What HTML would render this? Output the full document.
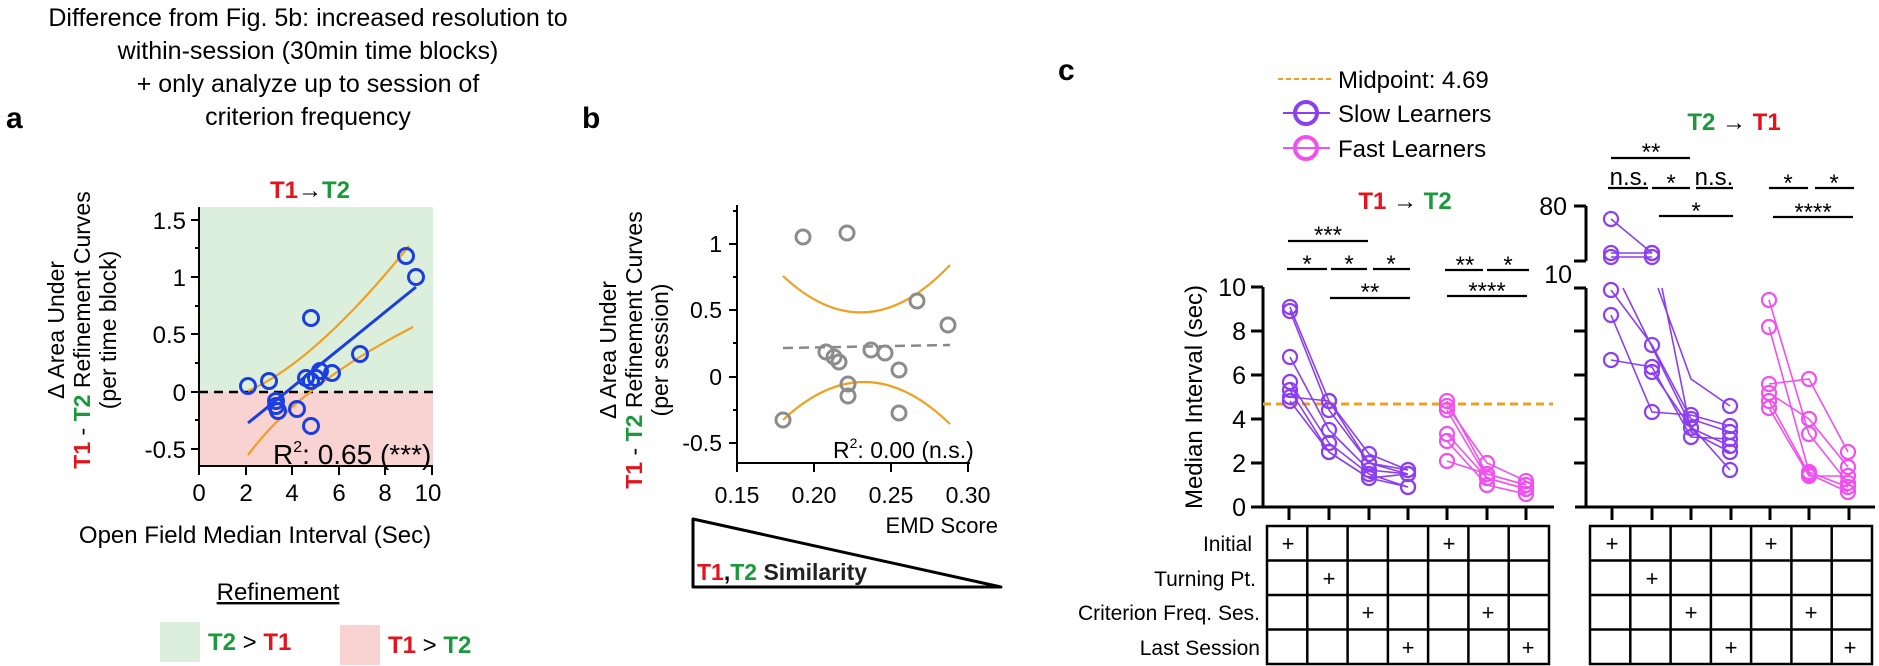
<!DOCTYPE html>
<html><head><meta charset="utf-8"><style>
html,body{margin:0;padding:0;background:#fff;}
svg{display:block;font-family:"Liberation Sans",Arial,sans-serif;}
</style></head><body>
<svg width="1879" height="666" viewBox="0 0 1879 666" xmlns="http://www.w3.org/2000/svg">
<defs>
<marker id="ms" viewBox="-10 -10 20 20" markerWidth="20" markerHeight="20" markerUnits="userSpaceOnUse" refX="0" refY="0"><circle r="7" fill="none" stroke="#8b3ff0" stroke-width="2.2"/></marker>
<marker id="mf" viewBox="-10 -10 20 20" markerWidth="20" markerHeight="20" markerUnits="userSpaceOnUse" refX="0" refY="0"><circle r="7" fill="none" stroke="#f050ef" stroke-width="2.2"/></marker>
</defs>
<!-- header text -->
<g font-size="25" text-anchor="middle" fill="#000">
<text x="308" y="26">Difference from Fig. 5b: increased resolution to</text>
<text x="308" y="59">within-session (30min time blocks)</text>
<text x="308" y="92">+ only analyze up to session of</text>
<text x="308" y="125">criterion frequency</text>
</g>
<text x="6" y="128" font-size="30" font-weight="bold">a</text>
<text x="582" y="128" font-size="30" font-weight="bold">b</text>
<text x="1058" y="80" font-size="30" font-weight="bold">c</text>

<!-- PANEL A -->
<rect x="199" y="207" width="234" height="185" fill="#dcefdc"/>
<rect x="199" y="392" width="234" height="74" fill="#f9d2d2"/>
<line x1="199" y1="392" x2="433" y2="392" stroke="#000" stroke-width="2.5" stroke-dasharray="9,6"/>
<text x="310" y="198" font-size="24" font-weight="bold" text-anchor="middle"><tspan fill="#e3141c">T1</tspan><tspan fill="#000" font-weight="normal">→</tspan><tspan fill="#1a9a3a">T2</tspan></text>
<g stroke="#000" stroke-width="2" fill="none">
<line x1="199" y1="207" x2="199" y2="466"/>
<line x1="199" y1="466" x2="433" y2="466"/>
<line x1="191" y1="220" x2="199" y2="220"/><line x1="191" y1="277" x2="199" y2="277"/><line x1="191" y1="334" x2="199" y2="334"/><line x1="191" y1="392" x2="199" y2="392"/><line x1="191" y1="449" x2="199" y2="449"/>
<line x1="195" y1="248" x2="199" y2="248"/><line x1="195" y1="306" x2="199" y2="306"/><line x1="195" y1="363" x2="199" y2="363"/><line x1="195" y1="420" x2="199" y2="420"/>
<line x1="199" y1="466" x2="199" y2="475"/><line x1="246" y1="466" x2="246" y2="475"/><line x1="292" y1="466" x2="292" y2="475"/><line x1="339" y1="466" x2="339" y2="475"/><line x1="385" y1="466" x2="385" y2="475"/><line x1="432" y1="466" x2="432" y2="475"/>
</g>
<g font-size="24" text-anchor="end">
<text x="186" y="229">1.5</text><text x="186" y="286">1</text><text x="186" y="343">0.5</text><text x="186" y="401">0</text><text x="186" y="458">-0.5</text>
</g>
<g font-size="24" text-anchor="middle">
<text x="199" y="501">0</text><text x="246" y="501">2</text><text x="292" y="501">4</text><text x="339" y="501">6</text><text x="385" y="501">8</text><text x="428" y="501">10</text>
</g>
<text x="255" y="543" font-size="24" text-anchor="middle">Open Field Median Interval (Sec)</text>
<g transform="translate(64,330) rotate(-90)" font-size="23" text-anchor="middle">
<text x="0" y="0">Δ Area Under</text>
<text x="0" y="26"><tspan fill="#e3141c" font-weight="bold">T1</tspan> - <tspan fill="#1a9a3a" font-weight="bold">T2</tspan> Refinement Curves</text>
<text x="0" y="52">(per time block)</text>
</g>
<path d="M248,391 Q315,362 409,246" stroke="#f0a020" stroke-width="2.2" fill="none"/>
<path d="M248,455 Q300,385 413,327" stroke="#f0a020" stroke-width="2.2" fill="none"/>
<line x1="248" y1="423" x2="416" y2="287" stroke="#1a3ee0" stroke-width="3"/>
<g fill="none" stroke="#1a3ee0" stroke-width="3">
<circle cx="248" cy="386" r="7.5"/><circle cx="269" cy="381" r="7.5"/><circle cx="276" cy="401" r="7.5"/><circle cx="276" cy="406" r="7.5"/><circle cx="278" cy="411" r="7.5"/><circle cx="297" cy="409" r="7.5"/><circle cx="306" cy="378" r="7.5"/><circle cx="311" cy="381" r="7.5"/><circle cx="311" cy="426" r="7.5"/><circle cx="316" cy="378" r="7.5"/><circle cx="320" cy="371" r="7.5"/><circle cx="332" cy="373" r="7.5"/><circle cx="360" cy="354" r="7.5"/><circle cx="311" cy="318" r="7.5"/><circle cx="406" cy="256" r="7.5"/><circle cx="416" cy="277" r="7.5"/>
</g>
<text x="273" y="464" font-size="28">R<tspan font-size="16" dy="-12">2</tspan><tspan dy="12">: 0.65 (***)</tspan></text>
<text x="278" y="600" font-size="24" text-anchor="middle" text-decoration="underline">Refinement</text>
<rect x="160" y="622" width="40" height="40" fill="#dcefdc"/>
<text x="208" y="650" font-size="24" font-weight="bold"><tspan fill="#1a9a3a">T2</tspan><tspan fill="#000" font-weight="normal"> &gt; </tspan><tspan fill="#e3141c">T1</tspan></text>
<rect x="340" y="625" width="40" height="40" fill="#f9d2d2"/>
<text x="388" y="653" font-size="24" font-weight="bold"><tspan fill="#e3141c">T1</tspan><tspan fill="#000" font-weight="normal"> &gt; </tspan><tspan fill="#1a9a3a">T2</tspan></text>

<!-- PANEL B -->
<g stroke="#000" stroke-width="2" fill="none">
<line x1="737" y1="205" x2="737" y2="463"/>
<line x1="737" y1="463" x2="970" y2="463"/>
<line x1="729" y1="244" x2="737" y2="244"/><line x1="729" y1="310" x2="737" y2="310"/><line x1="729" y1="377" x2="737" y2="377"/><line x1="729" y1="443" x2="737" y2="443"/>
<line x1="733" y1="211" x2="737" y2="211"/><line x1="733" y1="277" x2="737" y2="277"/><line x1="733" y1="343" x2="737" y2="343"/><line x1="733" y1="410" x2="737" y2="410"/>
<line x1="737" y1="463" x2="737" y2="472"/><line x1="814" y1="463" x2="814" y2="472"/><line x1="891" y1="463" x2="891" y2="472"/><line x1="968" y1="463" x2="968" y2="472"/>
</g>
<g font-size="23" text-anchor="end">
<text x="722" y="252">1</text><text x="722" y="318">0.5</text><text x="722" y="385">0</text><text x="722" y="451">-0.5</text>
</g>
<g font-size="23" text-anchor="middle">
<text x="737" y="503">0.15</text><text x="814" y="503">0.20</text><text x="891" y="503">0.25</text><text x="968" y="503">0.30</text>
</g>
<g transform="translate(632,350) rotate(-90)" font-size="23" text-anchor="middle">
<text x="0" y="-16">Δ Area Under</text>
<text x="0" y="10"><tspan fill="#e3141c" font-weight="bold">T1</tspan> - <tspan fill="#1a9a3a" font-weight="bold">T2</tspan> Refinement Curves</text>
<text x="0" y="36">(per session)</text>
</g>
<path d="M783,276 Q866,354 950,265" stroke="#f0a020" stroke-width="2.2" fill="none"/>
<path d="M783,420 Q866,342 950,424" stroke="#f0a020" stroke-width="2.2" fill="none"/>
<line x1="783" y1="348" x2="950" y2="345" stroke="#888" stroke-width="2.5" stroke-dasharray="10,6"/>
<g fill="none" stroke="#8c8c8c" stroke-width="3">
<circle cx="783" cy="420" r="7"/><circle cx="803" cy="237" r="7"/><circle cx="847" cy="233" r="7"/><circle cx="826" cy="352" r="7"/><circle cx="834" cy="357" r="7"/><circle cx="839" cy="362" r="7"/><circle cx="848" cy="384" r="7"/><circle cx="848" cy="396" r="7"/><circle cx="871" cy="350" r="7"/><circle cx="885" cy="353" r="7"/><circle cx="899" cy="370" r="7"/><circle cx="899" cy="413" r="7"/><circle cx="917" cy="301" r="7"/><circle cx="948" cy="325" r="7"/>
</g>
<text x="833" y="458" font-size="23">R<tspan font-size="14" dy="-10">2</tspan><tspan dy="10">: 0.00 (n.s.)</tspan></text>
<text x="998" y="533" font-size="22" text-anchor="end">EMD Score</text>
<polygon points="693,519 693,587 1001,587" fill="none" stroke="#000" stroke-width="3" stroke-linejoin="round"/>
<text x="697" y="580" font-size="23" font-weight="bold"><tspan fill="#e3141c">T1</tspan><tspan fill="#000">,</tspan><tspan fill="#1a9a3a">T2</tspan><tspan fill="#222"> Similarity</tspan></text>

<!-- PANEL C legend -->
<line x1="1278" y1="79" x2="1332" y2="79" stroke="#f0a020" stroke-width="2" stroke-dasharray="5,3"/>
<text x="1338" y="88" font-size="24">Midpoint: 4.69</text>
<line x1="1283" y1="113" x2="1330" y2="113" stroke="#8b3ff0" stroke-width="2"/>
<circle cx="1306" cy="113" r="11" fill="none" stroke="#8b3ff0" stroke-width="4"/>
<text x="1338" y="122" font-size="24">Slow Learners</text>
<line x1="1283" y1="148" x2="1330" y2="148" stroke="#f050ef" stroke-width="2"/>
<circle cx="1306" cy="148" r="11" fill="none" stroke="#f050ef" stroke-width="4"/>
<text x="1338" y="157" font-size="24">Fast Learners</text>

<text x="1405" y="209" font-size="24" font-weight="bold" text-anchor="middle"><tspan fill="#e3141c">T1</tspan><tspan fill="#000" font-weight="normal"> → </tspan><tspan fill="#1a9a3a">T2</tspan></text>
<text x="1734" y="130" font-size="24" font-weight="bold" text-anchor="middle"><tspan fill="#1a9a3a">T2</tspan><tspan fill="#000" font-weight="normal"> → </tspan><tspan fill="#e3141c">T1</tspan></text>

<!-- c left axes -->
<g stroke="#000" stroke-width="3" fill="none">
<line x1="1263" y1="287" x2="1263" y2="507"/>
<line x1="1251" y1="507" x2="1554" y2="507"/>
<line x1="1251" y1="287" x2="1263" y2="287"/><line x1="1251" y1="331" x2="1263" y2="331"/><line x1="1251" y1="375" x2="1263" y2="375"/><line x1="1251" y1="419" x2="1263" y2="419"/><line x1="1251" y1="463" x2="1263" y2="463"/>
<line x1="1289" y1="507" x2="1289" y2="520"/><line x1="1329" y1="507" x2="1329" y2="520"/><line x1="1369" y1="507" x2="1369" y2="520"/><line x1="1408" y1="507" x2="1408" y2="520"/><line x1="1447" y1="507" x2="1447" y2="520"/><line x1="1487" y1="507" x2="1487" y2="520"/><line x1="1526" y1="507" x2="1526" y2="520"/>
</g>
<g font-size="25" text-anchor="end">
<text x="1246" y="296">10</text><text x="1246" y="340">8</text><text x="1246" y="384">6</text><text x="1246" y="428">4</text><text x="1246" y="472">2</text><text x="1246" y="516">0</text>
</g>
<text transform="translate(1202,397) rotate(-90)" font-size="24" text-anchor="middle">Median Interval (sec)</text>
<line x1="1263" y1="404" x2="1553" y2="404" stroke="#f0a020" stroke-width="3" stroke-dasharray="8,5"/>

<!-- c right axes -->
<g stroke="#000" stroke-width="3" fill="none">
<line x1="1586" y1="206" x2="1586" y2="261"/>
<line x1="1586" y1="288" x2="1586" y2="507"/>
<line x1="1574" y1="206" x2="1586" y2="206"/><line x1="1574" y1="261" x2="1586" y2="261"/>
<line x1="1574" y1="288" x2="1586" y2="288"/><line x1="1574" y1="331" x2="1586" y2="331"/><line x1="1574" y1="375" x2="1586" y2="375"/><line x1="1574" y1="419" x2="1586" y2="419"/><line x1="1574" y1="463" x2="1586" y2="463"/>
<line x1="1575" y1="507" x2="1875" y2="507"/>
<line x1="1612" y1="507" x2="1612" y2="520"/><line x1="1652" y1="507" x2="1652" y2="520"/><line x1="1691" y1="507" x2="1691" y2="520"/><line x1="1731" y1="507" x2="1731" y2="520"/><line x1="1770" y1="507" x2="1770" y2="520"/><line x1="1809" y1="507" x2="1809" y2="520"/><line x1="1849" y1="507" x2="1849" y2="520"/>
</g>
<text x="1567" y="215" font-size="25" text-anchor="end">80</text>
<text x="1572" y="283" font-size="25" text-anchor="end">10</text>

<!-- c data -->
<g fill="none" stroke="#8b3ff0" stroke-width="1.6" marker-start="url(#ms)" marker-mid="url(#ms)" marker-end="url(#ms)">
<polyline points="1290,307 1329,401 1369,454 1408,470"/>
<polyline points="1290,311 1329,410 1369,463 1408,474"/>
<polyline points="1290,357 1329,430 1369,470 1408,474"/>
<polyline points="1290,382 1329,443 1369,474 1408,487"/>
<polyline points="1290,390 1329,452 1369,478 1408,487"/>
<polyline points="1290,397 1329,401 1369,463 1408,470"/>
<polyline points="1290,401 1329,452 1369,478 1408,474"/>
<polyline points="1611,219 1652,253"/>
<polyline points="1611,253 1652,253"/>
<polyline points="1611,257 1652,257"/>
<polyline points="1611,290 1652,345 1691,419 1730,432"/>
<polyline points="1611,315 1652,412 1691,415 1730,426"/>
<polyline points="1611,360 1652,367 1691,437 1730,439"/>
<polyline points="1652,372 1691,428 1730,446"/>
</g>
<g fill="none" stroke="#8b3ff0" stroke-width="1.6" marker-end="url(#ms)">
<polyline points="1623,288 1691,426 1730,470"/>
<polyline points="1658,288 1691,379 1730,406"/>
<polyline points="1662,288 1691,432 1730,452"/>
</g>
<g fill="none" stroke="#f050ef" stroke-width="1.6" marker-start="url(#mf)" marker-mid="url(#mf)" marker-end="url(#mf)">
<polyline points="1447,406 1487,463 1526,481"/>
<polyline points="1447,401 1487,474 1526,485"/>
<polyline points="1447,434 1487,478 1526,489"/>
<polyline points="1447,441 1487,485 1526,494"/>
<polyline points="1447,461 1487,474 1526,485"/>
<polyline points="1447,410 1487,478 1526,489"/>
<polyline points="1769,300 1809,434 1848,483"/>
<polyline points="1769,327 1809,472 1848,487"/>
<polyline points="1769,384 1809,379 1848,452"/>
<polyline points="1769,393 1809,419 1848,467"/>
<polyline points="1769,401 1809,474 1848,492"/>
<polyline points="1769,408 1809,476 1848,476"/>
</g>

<!-- significance bars -->
<g stroke="#000" stroke-width="2.2">
<line x1="1288" y1="241" x2="1368" y2="241"/>
<line x1="1287" y1="269" x2="1327" y2="269"/><line x1="1331" y1="269" x2="1367" y2="269"/><line x1="1373" y1="269" x2="1410" y2="269"/>
<line x1="1330" y1="298" x2="1410" y2="298"/>
<line x1="1445" y1="270" x2="1483" y2="270"/><line x1="1487" y1="270" x2="1529" y2="270"/>
<line x1="1447" y1="296" x2="1527" y2="296"/>
<line x1="1611" y1="158" x2="1690" y2="158"/>
<line x1="1608" y1="188" x2="1648" y2="188"/><line x1="1652" y1="188" x2="1690" y2="188"/><line x1="1696" y1="188" x2="1733" y2="188"/>
<line x1="1659" y1="216" x2="1733" y2="216"/>
<line x1="1769" y1="188" x2="1808" y2="188"/><line x1="1815" y1="188" x2="1854" y2="188"/>
<line x1="1773" y1="217" x2="1853" y2="217"/>
</g>
<g font-size="24" text-anchor="middle">
<text x="1328" y="243">***</text>
<text x="1307" y="272">*</text><text x="1349" y="272">*</text><text x="1391" y="272">*</text>
<text x="1370" y="300">**</text>
<text x="1465" y="273">**</text><text x="1508" y="273">*</text>
<text x="1487" y="299">****</text>
<text x="1651" y="160">**</text>
<text x="1629" y="185">n.s.</text><text x="1671" y="191">*</text><text x="1714" y="185">n.s.</text>
<text x="1696" y="219">*</text>
<text x="1788" y="191">*</text><text x="1834" y="191">*</text>
<text x="1813" y="220">****</text>
</g>

<!-- tables -->
<g stroke="#000" stroke-width="2.5" fill="none">
<rect x="1267" y="526" width="282" height="138"/>
<line x1="1267" y1="560.5" x2="1549" y2="560.5"/><line x1="1267" y1="595" x2="1549" y2="595"/><line x1="1267" y1="629.5" x2="1549" y2="629.5"/>
<line x1="1307.3" y1="526" x2="1307.3" y2="664"/><line x1="1347.6" y1="526" x2="1347.6" y2="664"/><line x1="1387.9" y1="526" x2="1387.9" y2="664"/><line x1="1428.1" y1="526" x2="1428.1" y2="664"/><line x1="1468.4" y1="526" x2="1468.4" y2="664"/><line x1="1508.7" y1="526" x2="1508.7" y2="664"/>
<rect x="1590" y="526" width="282" height="138"/>
<line x1="1590" y1="560.5" x2="1872" y2="560.5"/><line x1="1590" y1="595" x2="1872" y2="595"/><line x1="1590" y1="629.5" x2="1872" y2="629.5"/>
<line x1="1630.3" y1="526" x2="1630.3" y2="664"/><line x1="1670.6" y1="526" x2="1670.6" y2="664"/><line x1="1710.9" y1="526" x2="1710.9" y2="664"/><line x1="1751.1" y1="526" x2="1751.1" y2="664"/><line x1="1791.4" y1="526" x2="1791.4" y2="664"/><line x1="1831.7" y1="526" x2="1831.7" y2="664"/>
</g>
<g font-size="22" text-anchor="middle">
<text x="1288" y="551">+</text><text x="1449" y="551">+</text>
<text x="1329" y="586">+</text>
<text x="1368" y="620">+</text><text x="1488" y="620">+</text>
<text x="1408" y="655">+</text><text x="1528" y="655">+</text>
<text x="1612" y="551">+</text><text x="1771" y="551">+</text>
<text x="1652" y="586">+</text>
<text x="1691" y="620">+</text><text x="1811" y="620">+</text>
<text x="1731" y="655">+</text><text x="1850" y="655">+</text>
</g>
<g font-size="21" text-anchor="end">
<text x="1252" y="551">Initial</text>
<text x="1256" y="586">Turning Pt.</text>
<text x="1260" y="620">Criterion Freq. Ses.</text>
<text x="1260" y="655">Last Session</text>
</g>
</svg>
</body></html>
